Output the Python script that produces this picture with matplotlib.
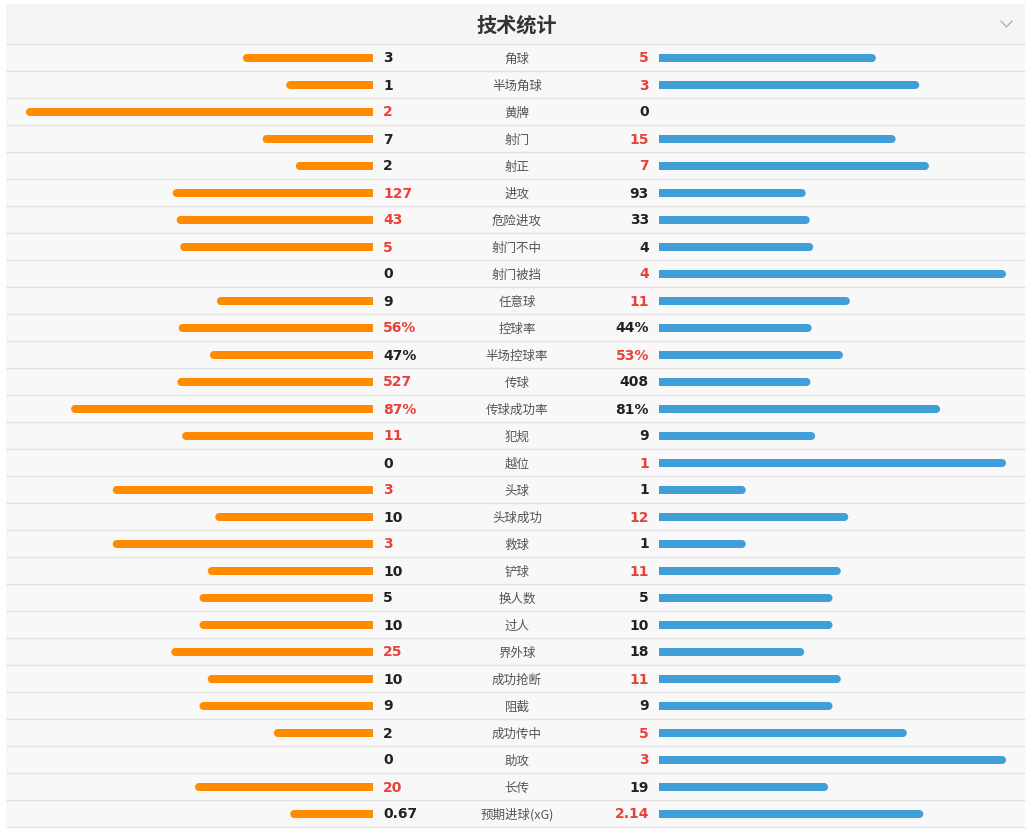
import matplotlib
matplotlib.use("Agg")
import matplotlib.pyplot as plt
from matplotlib.patches import Rectangle

plt.rcParams['font.family'] = ['Noto Sans CJK SC', 'DejaVu Sans']

title = "技术统计"
labels = ["角球", "半场角球", "黄牌", "射门", "射正", "进攻", "危险进攻", "射门不中",
          "射门被挡", "任意球", "控球率", "半场控球率", "传球", "传球成功率", "犯规",
          "越位", "头球", "头球成功", "救球", "铲球", "换人数", "过人", "界外球",
          "成功抢断", "阻截", "成功传中", "助攻", "长传", "预期进球(xG)"]
home_text = ["3", "1", "2", "7", "2", "127", "43", "5", "0", "9", "56%", "47%", "527",
             "87%", "11", "0", "3", "10", "3", "10", "5", "10", "25", "10", "9", "2",
             "0", "20", "0.67"]
away_text = ["5", "3", "0", "15", "7", "93", "33", "4", "4", "11", "44%", "53%", "408",
             "81%", "9", "1", "1", "12", "1", "11", "5", "10", "18", "11", "9", "5",
             "3", "19", "2.14"]

W, H = 1031, 832
fig = plt.figure(figsize=(W / 100, H / 100), dpi=100)
ax = fig.add_axes([0, 0, 1, 1])
ax.set_xlim(0, W)
ax.set_ylim(H, 0)
ax.axis('off')

ORANGE = "#ff8c00"
BLUE = "#409ed9"
RED = "#e8413b"
DARK = "#222222"
GRAY = "#555555"

left_x, right_x = 6, 1025
# header
ax.add_patch(Rectangle((left_x, 4), right_x - left_x, 40, facecolor="#f5f5f5", edgecolor="none"))
ax.text(517, 25, title, ha="center", va="center", fontsize=14.5, fontweight="bold", color="#333333")
ax.plot([1001, 1006.5, 1012], [21, 27, 21], color="#b0b0b0", lw=0.9)

row_h = 27
top = 44
n = len(labels)
ax.add_patch(Rectangle((left_x, top), right_x - left_x, n * row_h, facecolor="#f8f8f8", edgecolor="none"))
for k in range(n + 1):
    y = top + k * row_h
    ax.plot([left_x, right_x], [y, y], color="#e2e2e2", lw=1.0, solid_capstyle="butt")

track = 347
inner_l, inner_r = 373, 659
bar_h = 8
r = bar_h / 2
pt = 72 / 100


def draw_bar(x0, length, direction, yc, color):
    if length <= 0:
        return
    body = max(length - r, 0)
    if direction < 0:
        ax.add_patch(Rectangle((x0 - body, yc - r), body, bar_h, facecolor=color, edgecolor="none"))
        cx = x0 - body
    else:
        ax.add_patch(Rectangle((x0, yc - r), body, bar_h, facecolor=color, edgecolor="none"))
        cx = x0 + body
    ax.scatter([cx], [yc], s=(bar_h * pt) ** 2, color=color, edgecolors="none", marker="o", zorder=3)


for i, lab in enumerate(labels):
    yc = top + row_h * i + row_h / 2 + 0.5
    ht, at = home_text[i], away_text[i]
    pct = ht.endswith("%")
    hv = float(ht.rstrip("%"))
    av = float(at.rstrip("%"))
    if pct:
        hf, af = hv / 100, av / 100
    else:
        tot = hv + av
        hf = hv / tot if tot else 0
        af = av / tot if tot else 0
    draw_bar(inner_l, hf * track, -1, yc, ORANGE)
    draw_bar(inner_r, af * track, 1, yc, BLUE)
    hc = RED if hv > av else DARK
    ac = RED if av > hv else DARK
    ax.text(383, yc + 0.5, ht, ha="left", va="center", fontsize=10, fontweight="bold",
            color=hc, family="DejaVu Sans")
    ax.text(649, yc + 0.5, at, ha="right", va="center", fontsize=10, fontweight="bold",
            color=ac, family="DejaVu Sans")
    ax.text(517, yc + 1, lab, ha="center", va="center", fontsize=9, color=GRAY)

fig.savefig("out.png", dpi=100, facecolor="white")
